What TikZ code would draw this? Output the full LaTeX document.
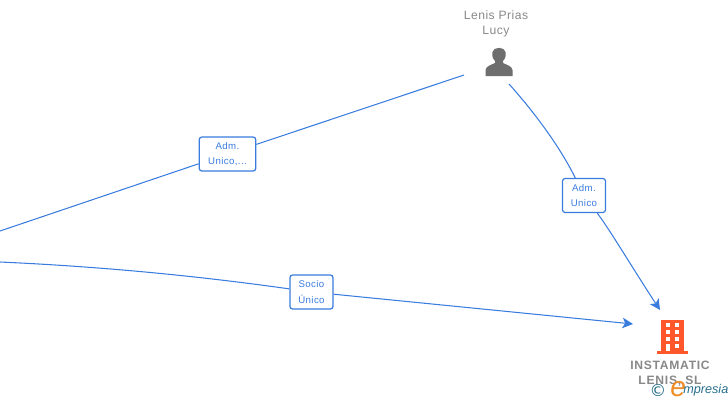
\documentclass[tikz,border=0pt]{standalone}
\usepackage{fontspec}
\setmainfont{Liberation Sans}
\newfontfamily\logofont[Scale=1.0]{DejaVu Sans}
\usetikzlibrary{arrows.meta}
\definecolor{edgeblue}{RGB}{58,124,222}
\definecolor{namegray}{RGB}{136,136,136}
\definecolor{icongray}{RGB}{110,110,110}
\definecolor{iconorange}{RGB}{255,87,44}
\definecolor{logoorange}{RGB}{240,140,40}
\definecolor{logoblue}{RGB}{40,110,140}
\tikzset{
	rolebox/.style = {draw=edgeblue, fill=white, rounded corners=1.5pt, line width=0.7pt, text=edgeblue,
		font=\fontsize{5.5}{8.6}\selectfont\addfontfeature{LetterSpace=4}, align=center, minimum width=#1, minimum height=0.68cm, inner sep=0pt},
	rolebox/.default = 0.86cm,
	edge/.style = {draw=edgeblue, line width=0.6pt},
	nametext/.style = {text=namegray, font=\fontsize{6.9}{8.5}\selectfont\addfontfeature{LetterSpace=4}, align=center, inner sep=0pt}
}
\begin{document}
\begin{tikzpicture}[x=0.02cm,y=-0.02cm]
	\useasboundingbox (0,0) rectangle (728,400);
	% nodes
	\node[nametext] (lucy) at (496,23.5) {Lenis Prias\\Lucy};
	\node[nametext, font=\fontsize{6.9}{8.5}\selectfont\bfseries\addfontfeature{LetterSpace=6}] (instamatic) at (670,373.5) {INSTAMATIC\\LENIS, SL};
	\node[rolebox=1.13cm] (adm1) at (227.5,154) {Adm.\\Unico,...};
	\node[rolebox] (adm2) at (584,195.5) {Adm.\\Unico};
	\node[rolebox] (socio) at (311.5,292) {Socio\\Único};
	\coordinate (left1) at (0,231);
	\coordinate (left2) at (0,262);
	\coordinate (lucyin) at (464,75);
	\coordinate (lucyout) at (509,84);
	\coordinate (tip1) at (660,310);
	\coordinate (tip2) at (633,324);
	% edges
	\draw[edge] (left1) -- (adm1);
	\draw[edge] (adm1) -- (lucyin);
	\draw[edge] (lucyout) .. controls (535,113) and (560,147) .. (adm2);
	\draw[edge, -{Stealth[length=6pt,width=6pt,inset=1.5pt]}] (adm2) .. controls (610,230) and (635,272) .. (tip1);
	\draw[edge] (left2) .. controls (110,267) and (205,277) .. (socio);
	\draw[edge, -{Stealth[length=6pt,width=6pt,inset=1.5pt]}] (socio) -- (tip2);
	% person
	\fill[icongray] (485.5,76) -- (485.5,70) .. controls (486,66) and (491,65) .. (495,63)
		-- (495,61) .. controls (492,58) and (492,54) .. (492.5,52)
		.. controls (493,46.5) and (505,46.5) .. (505.5,52)
		.. controls (506,54) and (506,58) .. (503,61) -- (503,63)
		.. controls (507,65) and (512,66) .. (512.5,70) -- (512.5,76) -- cycle;
	% building
	\fill[iconorange] (661,320) rectangle (684,351);
	\fill[iconorange] (657,351) rectangle (688,353.5);
	\foreach \row in {323,330,337} {
		\fill[white] (665.5,\row) rectangle (669.5,\row+3.5);
		\fill[white] (675,\row) rectangle (679,\row+3.5);
	}
	\fill[white] (665.5,344) rectangle (669.5,351);
	\fill[white] (675,344) rectangle (679,348);
	% logo
	\node[inner sep=0pt, text=logoblue, font=\logofont\fontsize{9.5}{9.5}\selectfont] (copy) at (658,390) {©};
	\node[inner sep=0pt, anchor=base west, text=logoorange, font=\fontsize{16}{16}\selectfont\itshape] (logoe) at (670,396) {e};
	\node[inner sep=0pt, anchor=base west, text=logoblue, font=\fontsize{7.2}{8}\selectfont\itshape] (logotext) at (683,393) {mpresia};
\end{tikzpicture}
\end{document}
